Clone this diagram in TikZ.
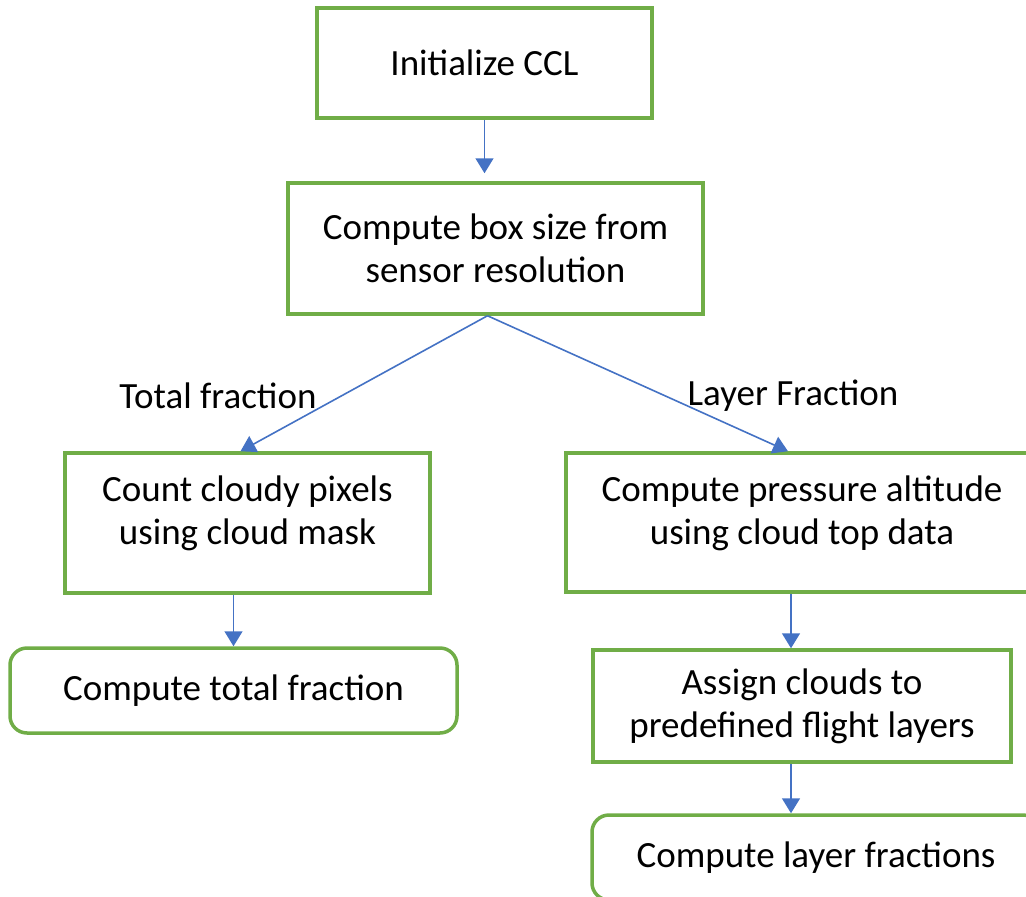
\documentclass[tikz,border=0pt]{standalone}
\usepackage{fontspec}
\setmainfont{Carlito}
\usetikzlibrary{arrows.meta}
\definecolor{boxgreen}{RGB}{112,173,71}
\definecolor{flowblue}{RGB}{68,114,196}
\begin{document}
\begin{tikzpicture}[x=1pt,y=-1pt,font=\fontsize{37}{43}\selectfont,
  box/.style={draw=boxgreen,line width=3.5pt,align=center,inner sep=0pt},
  endbox/.style={box,rounded corners=17pt},
  flow/.style={draw=flowblue,line width=1.6pt,-{Triangle[length=15pt,width=18pt]}}]
 \useasboundingbox (0,0) rectangle (1026,897);
 % main column
 \node[box,minimum width=335pt,minimum height=110pt] (init) at (484.5,63) {Initialize CCL};
 \node[box,minimum width=415pt,minimum height=131pt] (size) at (495.5,248.5) {Compute box size from\\sensor resolution};
 % total fraction branch
 \node[box,minimum width=365pt,minimum height=140pt,text depth=26pt] (count) at (247.5,523) {Count cloudy pixels\\using cloud mask};
 \node[endbox,minimum width=447pt,minimum height=85pt] (total) at (233.5,690.5) {Compute total fraction};
 % layer fraction branch
 \node[box,minimum width=472pt,minimum height=139pt,text depth=24pt] (press) at (802,522.5) {Compute pressure altitude\\using cloud top data};
 \node[box,minimum width=418pt,minimum height=112pt] (assign) at (802,706) {Assign clouds to\\predefined flight layers};
 \node[endbox,minimum width=448pt,minimum height=85pt] (layer) at (816,857.5) {Compute layer fractions};
 \node (totlab) at (218,396) {Total fraction};
 \node (laylab) at (793,396) {Layer Fraction};
 % connectors
 \draw[flow,shorten >=8pt] (init.south) -- (init.south |- size.north);
 \draw[flow] ([xshift=-8pt]size.south) -- ([xshift=-7pt]count.north);
 \draw[flow] ([xshift=-8pt]size.south) -- ([xshift=-14pt]press.north);
 \draw[flow] (total.north |- count.south) -- (total.north);
 \draw[flow] ([xshift=-11pt]assign.north |- press.south) -- ([xshift=-11pt]assign.north);
 \draw[flow] ([xshift=-11pt]assign.south) -- ([xshift=-11pt]assign.south |- layer.north);
\end{tikzpicture}
\end{document}
